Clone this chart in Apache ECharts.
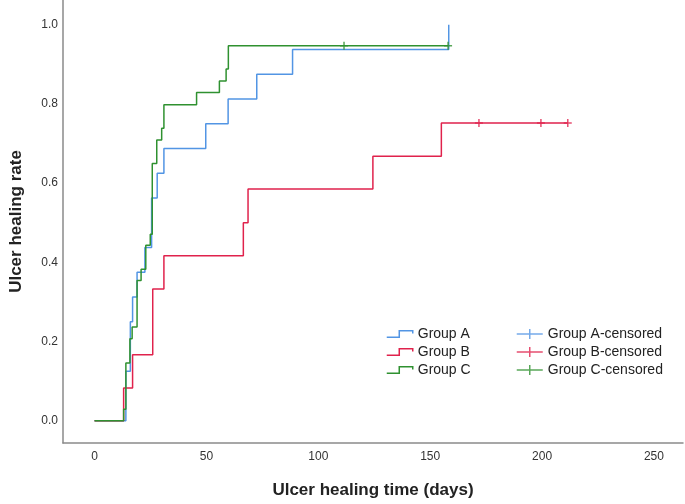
<!DOCTYPE html>
<html>
<head>
<meta charset="utf-8">
<script src="https://cdn.jsdelivr.net/npm/echarts@6/dist/echarts.min.js"></script>
<style>
  html, body { margin: 0; padding: 0; background: #fff; }
  #chart { width: 685px; height: 504px; }
</style>
</head>
<body>
<div id="chart"></div>
<script>
// Kaplan-Meier style data (days, cumulative healing rate)
var timesA = [0, 14, 16, 17, 19, 22.5, 25.5, 28, 31, 49.7, 59.7, 72.5, 88.5, 158.3];
var rateA  = [0, 0.125, 0.25, 0.3125, 0.375, 0.4375, 0.5625, 0.625, 0.6875, 0.75, 0.8125, 0.875, 0.9375, 1.0];

var timesB = [0, 13, 17, 26, 31, 66.5, 68.6, 124.4, 155, 211.5];
var rateB  = [0, 0.083, 0.167, 0.333, 0.417, 0.5, 0.585, 0.668, 0.752, 0.752];

var timesC = [0, 13, 14, 15.8, 16.8, 19, 20.8, 22.9, 24.9, 25.8, 27.8, 30, 31, 45.6, 55.8, 58.8, 59.8, 158];
var rateC  = [0, 0.029, 0.146, 0.207, 0.237, 0.354, 0.383, 0.443, 0.471, 0.65, 0.709, 0.739, 0.798, 0.829, 0.858, 0.888, 0.947, 0.947];

// censored observations
var censA = [];
var censB = [171.8, 199.5, 211.5];
var censC = [111.5, 158];

var xTicks = [0, 50, 100, 150, 200, 250];
var yTicks = [0, 0.2, 0.4, 0.6, 0.8, 1.0];

var colA = '#5295e4', colB = '#e0224c', colC = '#2f9130';

function pairs(t, v) {
    return t.map(function (x, i) { return [x, v[i]]; });
}
function censPts(t, level) {
    return t.map(function (x) { return [x, level]; });
}

var stepIcon = 'path://M0,8 L13,8 L13,1 L27,1 L27,4';
var plusIcon = 'path://M0,5 L26,5 M13,0 L13,10';
var tick = 'path://M5,0 L5,10 M0,5 L10,5';

function legendItem(name, icon, c) {
    return { name: name, icon: icon,
             itemStyle: { color: 'rgba(0,0,0,0)', borderColor: c, borderWidth: 1.5 } };
}

function stepSeries(name, data, c) {
    return {
        name: name, type: 'line', step: 'end', data: data,
        symbol: 'none', showSymbol: false,
        lineStyle: { color: c, width: 1.5 }, itemStyle: { color: c },
        emphasis: { disabled: true }, silent: true
    };
}
function censSeries(name, data, c) {
    return {
        name: name, type: 'scatter', data: data, symbol: tick, symbolSize: [8, 8],
        itemStyle: { color: 'rgba(0,0,0,0)', borderColor: c, borderWidth: 1.5 },
        emphasis: { disabled: true }, silent: true, z: 3
    };
}

var lastA = rateA[rateA.length - 1];
var lastB = rateB[rateB.length - 1];
var lastC = rateC[rateC.length - 1];

var option = {
    animation: false,
    backgroundColor: '#fff',
    textStyle: { fontFamily: 'Liberation Sans, Arial, sans-serif' },
    grid: { left: 55, right: 2, top: 0, bottom: 56.5 },
    legend: [{
        orient: 'vertical', left: 381, top: 322,
        itemWidth: 26, itemHeight: 7, itemGap: 4, selectedMode: false,
        textStyle: { fontSize: 14, color: '#222', lineHeight: 14 },
        data: [legendItem('Group A', stepIcon, colA), legendItem('Group B', stepIcon, colB), legendItem('Group C', stepIcon, colC)]
    }, {
        orient: 'vertical', left: 511, top: 322,
        itemWidth: 26, itemHeight: 10, itemGap: 4, selectedMode: false,
        textStyle: { fontSize: 14, color: '#222', lineHeight: 14 },
        data: [legendItem('Group A-censored', plusIcon, colA), legendItem('Group B-censored', plusIcon, colB), legendItem('Group C-censored', plusIcon, colC)]
    }],
    xAxis: {
        type: 'value', min: -14.1, max: 263,
        name: 'Ulcer healing time (days)', nameLocation: 'middle', nameGap: 39,
        nameTextStyle: { fontSize: 17, fontWeight: 'bold', color: '#222' },
        axisLine: { onZero: false, lineStyle: { color: '#8a8a8a', width: 1.5 } },
        axisTick: { show: false }, splitLine: { show: false },
        axisLabel: {
            margin: 8, fontSize: 12, color: '#333', showMinLabel: false, showMaxLabel: false,
            formatter: function (v) { return xTicks.indexOf(Math.round(v)) >= 0 && Math.abs(v - Math.round(v)) < 1e-6 ? String(Math.round(v)) : ''; }
        }
    },
    yAxis: {
        type: 'value', min: -0.056, max: 1.0625,
        name: 'Ulcer healing rate', nameLocation: 'middle', nameGap: 38,
        nameTextStyle: { fontSize: 17, fontWeight: 'bold', color: '#222' },
        axisLine: { onZero: false, lineStyle: { color: '#8a8a8a', width: 1.5 } },
        axisTick: { show: false }, splitLine: { show: false },
        axisLabel: {
            margin: 5, fontSize: 12, color: '#333', showMinLabel: false, showMaxLabel: false,
            formatter: function (v) {
                for (var i = 0; i < yTicks.length; i++) {
                    if (Math.abs(v - yTicks[i]) < 1e-6) return yTicks[i].toFixed(1);
                }
                return '';
            }
        }
    },
    series: [
        stepSeries('Group A', pairs(timesA, rateA), colA),
        stepSeries('Group B', pairs(timesB, rateB), colB),
        stepSeries('Group C', pairs(timesC, rateC), colC),
        censSeries('Group A-censored', censPts(censA, lastA), colA),
        censSeries('Group B-censored', censPts(censB, lastB), colB),
        censSeries('Group C-censored', censPts(censC, lastC), colC)
    ]
};

var chart = echarts.init(document.getElementById('chart'));
chart.setOption(option);
</script>
</body>
</html>
